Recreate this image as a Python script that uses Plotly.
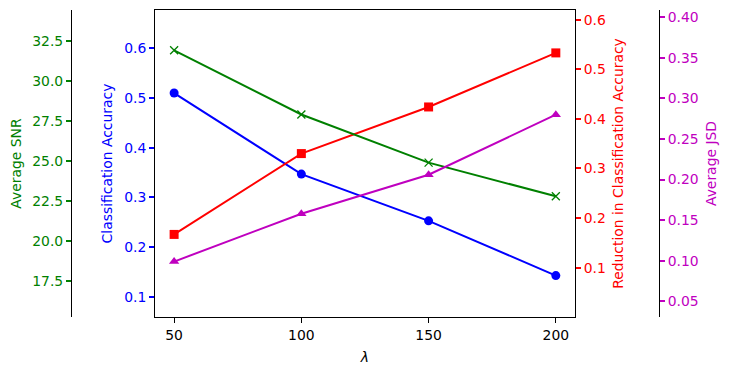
import plotly.graph_objects as go

lam = [50, 100, 150, 200]
snr = [31.9, 27.9, 24.9, 22.8]
accuracy = [0.510, 0.347, 0.253, 0.143]
reduction = [0.167, 0.330, 0.424, 0.533]
jsd = [0.099, 0.158, 0.206, 0.280]

GREEN = '#008000'
BLUE = '#0000ff'
RED = '#ff0000'
MAGENTA = '#bf00bf'
FONT = 'DejaVu Sans'

fig = go.Figure()

fig.add_trace(go.Scatter(x=lam, y=accuracy, name='Classification Accuracy', yaxis='y',
                         mode='lines+markers', line=dict(color=BLUE, width=2),
                         marker=dict(symbol='circle', size=9, color=BLUE)))
fig.add_trace(go.Scatter(x=lam, y=reduction, name='Reduction', yaxis='y2',
                         mode='lines+markers', line=dict(color=RED, width=2),
                         marker=dict(symbol='square', size=9, color=RED)))
fig.add_trace(go.Scatter(x=lam, y=snr, name='SNR', yaxis='y3',
                         mode='lines+markers', line=dict(color=GREEN, width=2),
                         marker=dict(symbol='x-thin', size=8, line=dict(color=GREEN, width=1.3))))
fig.add_trace(go.Scatter(x=lam, y=jsd, name='JSD', yaxis='y4',
                         mode='lines+markers', line=dict(color=MAGENTA, width=2),
                         marker=dict(symbol='triangle-up', size=9, color=MAGENTA)))

# common axis styling, matplotlib-like
def ax_style(color, rng, dtick, tick0, fmt, title, standoff):
    return dict(
        range=rng, dtick=dtick, tick0=tick0, tickformat=fmt,
        showgrid=False, zeroline=False, automargin=False,
        showline=True, linecolor='black', linewidth=1,
        ticks='outside', ticklen=5, tickwidth=1.5, tickcolor=color,
        tickfont=dict(family=FONT, size=13.9, color=color),
        title=dict(text=title, font=dict(family=FONT, size=13.9, color=color), standoff=standoff),
    )

# page body has an 8px margin, so the figure is a bit smaller and shifted
fig.update_layout(
    width=721, height=364,
    margin=dict(l=63, r=70, t=2, b=55, autoexpand=False),
    paper_bgcolor='white', plot_bgcolor='white',
    showlegend=False,
    font=dict(family=FONT, color='black'),
    xaxis=dict(
        domain=[0.1429, 0.857], range=[42.5, 207.5], automargin=False,
        tickvals=lam, showgrid=False, zeroline=False,
        showline=True, mirror=True, linecolor='black', linewidth=1,
        ticks='outside', ticklen=5, tickcolor='black',
        tickfont=dict(family=FONT, size=13.9, color='black'),
        title=dict(text='<i>λ</i>', font=dict(family=FONT, size=13.9, color='black'), standoff=10),
    ),
    yaxis=dict(anchor='x', side='left', **ax_style(BLUE, [0.0597, 0.677], 0.1, 0.1, '.1f',
                                                    'Classification Accuracy', 8)),
    yaxis2=dict(anchor='x', side='right', overlaying='y',
                **ax_style(RED, [0.0005, 0.6195], 0.1, 0.1, '.1f',
                           'Reduction in Classification Accuracy', 8)),
    yaxis3=dict(anchor='free', position=0, side='left', overlaying='y',
                **ax_style(GREEN, [15.28, 34.41], 2.5, 17.5, '.1f', 'Average SNR', 8)),
    yaxis4=dict(anchor='free', position=1, side='right', overlaying='y',
                **ax_style(MAGENTA, [0.0307, 0.409], 0.05, 0.05, '.2f', 'Average JSD', 8)),
)

fig.write_html("out.html")
